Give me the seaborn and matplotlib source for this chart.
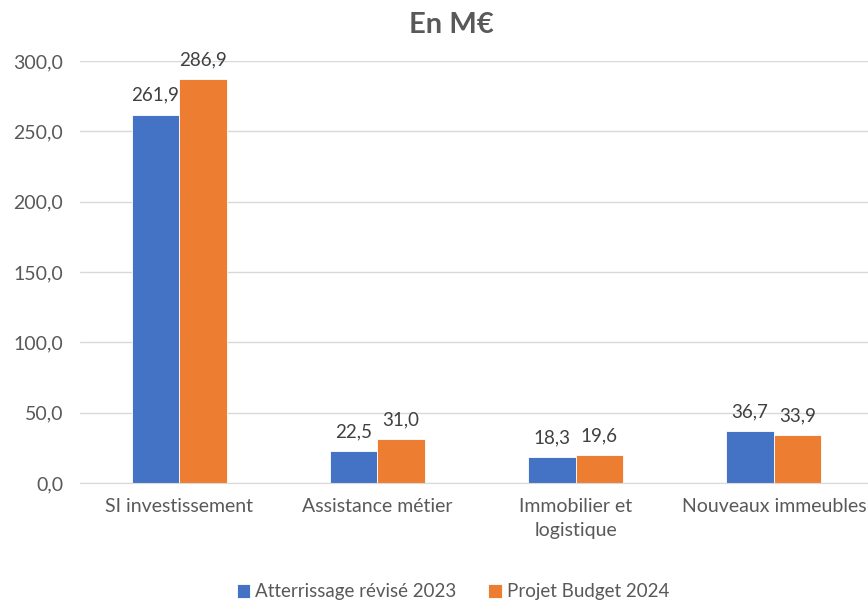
import pandas as pd
import matplotlib
matplotlib.use("Agg")
import matplotlib.pyplot as plt
import seaborn as sns

categories = ["SI investissement", "Assistance métier", "Immobilier et\nlogistique", "Nouveaux immeubles"]
series_names = ["Atterrissage révisé 2023", "Projet Budget 2024"]
values_2023 = [261.9, 22.5, 18.3, 36.7]
values_2024 = [286.9, 31.0, 19.6, 33.9]
colors = ["#4472C4", "#ED7D31"]

df = pd.DataFrame({
    "categorie": categories * 2,
    "serie": [series_names[0]] * 4 + [series_names[1]] * 4,
    "valeur": values_2023 + values_2024,
})

sns.set_style("white")
plt.rcParams["font.family"] = ["Lato", "DejaVu Sans"]
grey = "#595959"

fig = plt.figure(figsize=(8.68, 6.02), dpi=100)
ax = fig.add_axes([80 / 868, 119 / 602, 793 / 868, 422 / 602])

sns.barplot(data=df, x="categorie", y="valeur", hue="serie", palette=colors,
            saturation=1, width=0.48, gap=0, edgecolor="white", linewidth=0.6, ax=ax)

ax.set_ylim(0, 300)
ax.set_yticks(range(0, 301, 50))
ax.set_yticklabels([f"{v:.1f}".replace(".", ",") for v in range(0, 301, 50)])
ax.yaxis.grid(True, color="#D9D9D9", linewidth=1)
ax.set_axisbelow(True)
for s in ["top", "right", "left"]:
    ax.spines[s].set_visible(False)
ax.spines["bottom"].set_color("#D9D9D9")
ax.tick_params(axis="both", length=0, labelsize=14, labelcolor=grey)
ax.tick_params(axis="y", pad=12)
ax.tick_params(axis="x", pad=11)
for t in ax.get_xticklabels():
    t.set_linespacing(1.5)
ax.set_xlabel("")
ax.set_ylabel("")

for cont in ax.containers:
    labels = [f"{b.get_height():.1f}".replace(".", ",") for b in cont]
    ax.bar_label(cont, labels=labels, padding=8, fontsize=13.5, color="#404040")

fig.text(451 / 868, 1 - 25 / 602, "En M€", fontsize=21, fontweight="bold",
         color=grey, ha="center", va="center")

handles, labs = ax.get_legend_handles_labels()
ax.legend_.remove()
fig.legend(handles, labs, loc="center", bbox_to_anchor=(453 / 868, 1 - 592 / 602),
           ncol=2, frameon=False, fontsize=13.5, labelcolor=grey,
           handlelength=0.7, handleheight=0.7, handletextpad=0.3, columnspacing=1.7)

fig.savefig("out.png", dpi=100)
